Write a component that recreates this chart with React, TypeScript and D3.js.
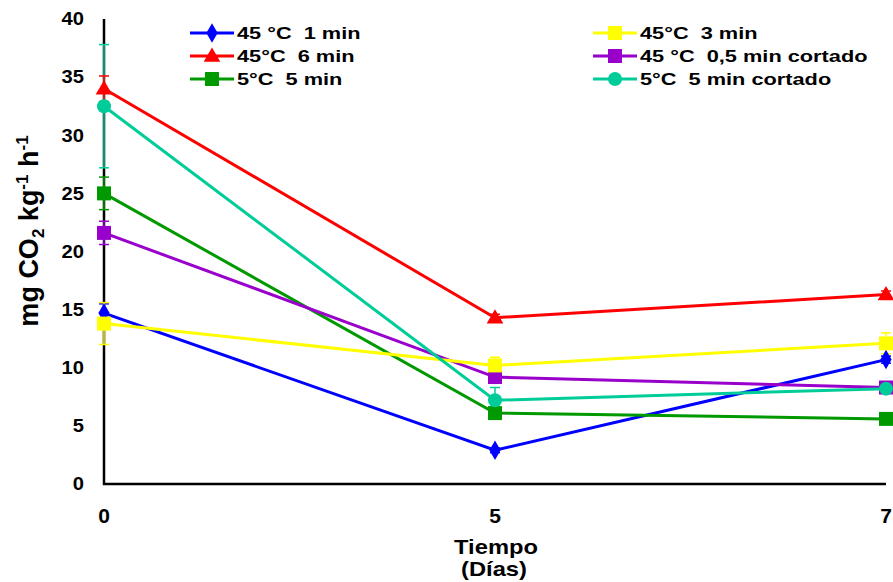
import React from 'react';
import * as d3 from 'd3';

const days = ['0', '5', '7'];
const yTicks = [0, 5, 10, 15, 20, 25, 30, 35, 40];

const seriesNames = ['45 °C  1 min', '45°C  3 min', '45°C  6 min', '45 °C  0,5 min cortado', '5°C  5 min', '5°C  5 min cortado'];
const seriesColors = ['#0000FF', '#FFFF00', '#FF0000', '#9900CC', '#009900', '#00CC99'];
const seriesMarkers = ['diamond', 'square', 'triangle', 'square', 'square', 'circle'];

const blueValues = [14.7, 2.9, 10.7];
const yellowValues = [13.8, 10.2, 12.1];
const redValues = [34.0, 14.3, 16.3];
const purpleValues = [21.6, 9.2, 8.3];
const greenValues = [25.0, 6.1, 5.6];
const cyanValues = [32.5, 7.2, 8.2];

const blueErr = [0.8, 0.2, 0.3];
const yellowErr = [1.8, 0.7, 0.9];
const redErr = [1.1, 0.3, 0.3];
const purpleErr = [1.0, 0.3, 0.3];
const greenErr = [1.4, 0.3, 0.3];
const cyanErr = [5.3, 1.1, 0.4];

const allValues = [blueValues, yellowValues, redValues, purpleValues, greenValues, cyanValues];
const allErr = [blueErr, yellowErr, redErr, purpleErr, greenErr, cyanErr];

// draw order (back to front)
const drawOrder = [0, 4, 3, 1, 5, 2];

const W = 893;
const H = 582;
const left = 104;
const right = 886;
const top = 19;
const bottom = 484;

const font = 'Liberation Sans, Arial, sans-serif';

function Marker({ type, x, y, color }: { type: string; x: number; y: number; color: string }) {
  if (type === 'diamond') {
    const s = d3.symbol().type(d3.symbolDiamond).size(110)();
    return <path d={s || ''} transform={`translate(${x},${y})`} fill={color} />;
  }
  if (type === 'triangle') {
    const s = d3.symbol().type(d3.symbolTriangle).size(120)();
    return <path d={s || ''} transform={`translate(${x},${y + 1})`} fill={color} />;
  }
  if (type === 'circle') {
    return <circle cx={x} cy={y} r={7} fill={color} />;
  }
  return <rect x={x - 7} y={y - 7} width={14} height={14} fill={color} />;
}

export default function App() {
  const x = d3.scalePoint<string>().domain(days).range([left, right]);
  const y = d3.scaleLinear().domain([0, 40]).range([bottom, top]);
  const line = d3.line<number>()
    .x((_, i) => x(days[i]) as number)
    .y(d => y(d));

  const legendRows = [33, 56, 79];
  const legendCols = [190, 593];

  return (
    <svg width={W} height={H} style={{ position: 'absolute', left: 0, top: 0, background: '#fff' }}>
      {/* axes */}
      <line x1={left} y1={top} x2={left} y2={bottom + 1} stroke="#000" strokeWidth={2.5} />
      <line x1={left - 1} y1={bottom} x2={right} y2={bottom} stroke="#000" strokeWidth={2.5} />

      {yTicks.map(t => (
        <text key={t} transform={`translate(84,${y(t)}) scale(1.12,1)`} dy="0.35em" textAnchor="end" fontFamily={font} fontWeight="bold" fontSize={18}>{t}</text>
      ))}
      {days.map(d => (
        <text key={d} x={x(d)} y={523} textAnchor="middle" fontFamily={font} fontWeight="bold" fontSize={21}>{d}</text>
      ))}

      <text transform="translate(496,554) scale(1.13,1)" textAnchor="middle" fontFamily={font} fontWeight="bold" fontSize={21}>Tiempo</text>
      <text transform="translate(494,576) scale(1.13,1)" textAnchor="middle" fontFamily={font} fontWeight="bold" fontSize={21}>(Días)</text>

      <text transform="translate(38,231) rotate(-90)" textAnchor="middle" fontFamily={font} fontWeight="bold" fontSize={27}>
        mg CO<tspan fontSize={17} dy={6}>2</tspan><tspan dy={-6}> kg</tspan><tspan fontSize={17} dy={-10}>-1</tspan><tspan dy={10}> h</tspan><tspan fontSize={17} dy={-10}>-1</tspan>
      </text>

      {/* error bars */}
      {drawOrder.map(si => (
        <g key={'e' + si} stroke={seriesColors[si]} strokeWidth={1.5}>
          {allValues[si].map((v, i) => {
            const cx = x(days[i]) as number;
            const e = allErr[si][i];
            return (
              <g key={i}>
                <line x1={cx} x2={cx} y1={y(v + e)} y2={y(v - e)} />
                <line x1={cx - 5} x2={cx + 5} y1={y(v + e)} y2={y(v + e)} />
                <line x1={cx - 5} x2={cx + 5} y1={y(v - e)} y2={y(v - e)} />
              </g>
            );
          })}
        </g>
      ))}

      {/* series */}
      {drawOrder.map(si => (
        <g key={'s' + si}>
          <path d={line(allValues[si]) || ''} fill="none" stroke={seriesColors[si]} strokeWidth={3} />
          {allValues[si].map((v, i) => (
            <Marker key={i} type={seriesMarkers[si]} x={x(days[i]) as number} y={y(v)} color={seriesColors[si]} />
          ))}
        </g>
      ))}

      {/* legend */}
      {seriesNames.map((name, i) => {
        const col = i % 2;
        const row = Math.floor(i / 2);
        const lx = legendCols[col];
        const ly = legendRows[row];
        return (
          <g key={name}>
            <line x1={lx} x2={lx + 44} y1={ly} y2={ly} stroke={seriesColors[i]} strokeWidth={3} />
            <Marker type={seriesMarkers[i]} x={lx + 22} y={ly} color={seriesColors[i]} />
            <text transform={`translate(${lx + 47},${ly}) scale(1.28,1)`} dy="0.36em" fontFamily={font} fontWeight="bold" fontSize={17} style={{ whiteSpace: 'pre' }}>{name}</text>
          </g>
        );
      })}
    </svg>
  );
}
